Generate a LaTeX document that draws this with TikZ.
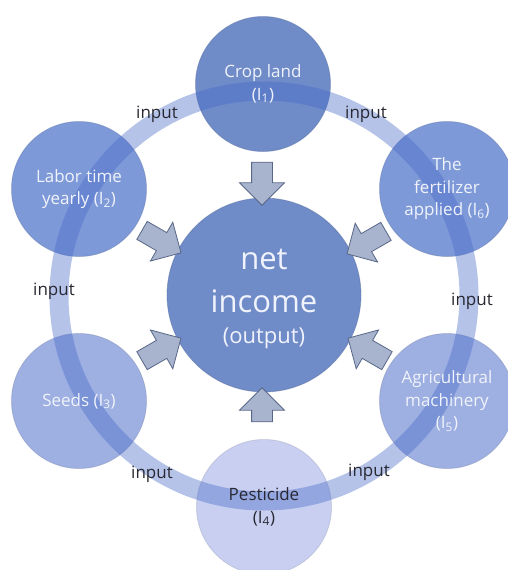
\documentclass[tikz,border=0pt]{standalone}
\usepackage{fontspec}
\setmainfont{Open Sans}
\usetikzlibrary{shapes.arrows}
\definecolor{cMain}{RGB}{111,139,200}
\definecolor{cTop}{RGB}{111,139,200}
\definecolor{cMid}{RGB}{126,153,216}
\definecolor{cLow}{RGB}{158,175,226}
\definecolor{cBot}{RGB}{200,207,240}
\definecolor{ringc}{RGB}{70,105,200}
\definecolor{arrfill}{RGB}{168,180,206}
\definecolor{arrdraw}{RGB}{88,103,135}
\definecolor{lighttext}{RGB}{240,243,251}
\definecolor{darktext}{RGB}{40,40,50}
\begin{document}
\begin{tikzpicture}[x=1pt,y=-1pt,
  disc/.style={circle, minimum size=135pt, inner sep=0pt, fill=#1, draw=#1!80!black, draw opacity=0.45, line width=0.8pt},
  ctext/.style={align=center, text=lighttext, inner sep=0pt, font=\fontsize{17}{22.5}\selectfont},
  inlabel/.style={text=darktext, inner sep=0pt, font=\fontsize{17}{20}\selectfont},
  blockarrow/.style={single arrow, draw=arrdraw, fill=arrfill, line width=0.8pt, minimum width=44pt, single arrow head extend=12pt, inner xsep=0pt, inner ysep=10pt, single arrow tip angle=90, minimum height=#1},
]
\fill[white] (0,0) rectangle (507,570);
\useasboundingbox (0,0) rectangle (507,570);

% circles
\node[disc=cMain, minimum size=194pt] (c0) at (264,295) {};
\node[disc=cTop] (c1) at (263,84) {};
\node[disc=cMid] (c2) at (79,189) {};
\node[disc=cLow] (c3) at (79,401) {};
\node[disc=cBot] (c4) at (264,507) {};
\node[disc=cLow] (c5) at (447,401) {};
\node[disc=cMid] (c6) at (447,189) {};

% ring
\draw[ringc, line width=19pt, draw opacity=0.4] (264,296) circle[radius=205];

% block arrows
\node[blockarrow=43pt, rotate=-90] (a1) at (262,178.5) {};
\node[blockarrow=45pt, rotate=-30] (a2) at (157,239) {};
\node[blockarrow=45pt, rotate=30] (a3) at (157,352) {};
\node[blockarrow=34pt, rotate=90] (a4) at (262,410) {};
\node[blockarrow=45pt, rotate=150] (a5) at (372,352) {};
\node[blockarrow=45pt, rotate=210] (a6) at (371,240) {};

% texts
\node[ctext] (t1) at (c1) {Crop land\\(I\textsubscript{1})};
\node[ctext] (t2) at (c2) {Labor time\\yearly (I\textsubscript{2})};
\node[ctext] (t3) at (c3) {Seeds (I\textsubscript{3})};
\node[ctext, text=darktext] (t4) at (c4) {Pesticide\\(I\textsubscript{4})};
\node[ctext] (t5) at (c5) {Agricultural\\machinery\\(I\textsubscript{5})};
\node[ctext] (t6) at (c6) {The\\fertilizer\\applied (I\textsubscript{6})};

\node[anchor=base, text=lighttext, inner sep=0pt, font=\fontsize{31}{31}\selectfont] (tnet) at (264,269) {net};
\node[anchor=base, text=lighttext, inner sep=0pt, font=\fontsize{31}{31}\selectfont] (tinc) at (264,312) {income};
\node[anchor=base, text=lighttext, inner sep=0pt, font=\fontsize{22}{22}\selectfont] (tout) at (264,343) {(output)};

% input labels
\node[inlabel] (i1) at (157,114) {input};
\node[inlabel] (i2) at (366,114) {input};
\node[inlabel] (i3) at (54,291) {input};
\node[inlabel] (i4) at (472,301) {input};
\node[inlabel] (i5) at (152,474) {input};
\node[inlabel] (i6) at (369,472) {input};
\end{tikzpicture}
\end{document}
